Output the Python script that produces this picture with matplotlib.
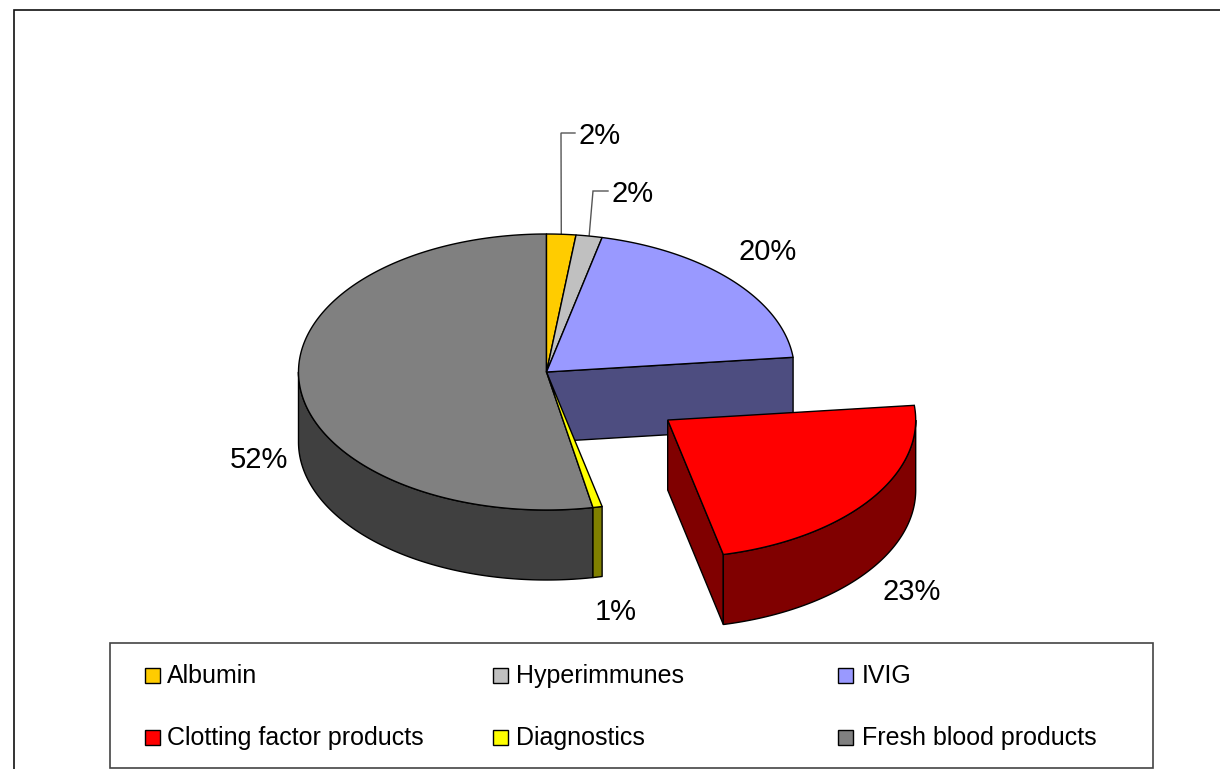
import numpy as np
import matplotlib
matplotlib.use("Agg")
import matplotlib.pyplot as plt
from matplotlib.patches import Polygon, Rectangle
from matplotlib.colors import to_rgb

categories = ["Albumin", "Hyperimmunes", "IVIG", "Clotting factor products", "Diagnostics", "Fresh blood products"]
values = [1.9, 1.7, 19.7, 23.1, 0.6, 53.0]
pct_labels = ["2%", "2%", "20%", "23%", "1%", "52%"]
colors = ["#FFCC00", "#C0C0C0", "#9999FF", "#FF0000", "#FFFF00", "#808080"]
explode = [0, 0, 0, 0.6, 0, 0]

plt.rcParams["font.family"] = ["Liberation Sans", "DejaVu Sans"]
fig = plt.figure(figsize=(12.2, 7.69), dpi=100)
ax = fig.add_axes([0, 0, 1, 1])
ax.set_xlim(0, 1220)
ax.set_ylim(769, 0)
ax.axis("off")

CX, CY, RX, RY, DEPTH = 546.5, 372, 248, 138, 70
EDGE = 1.0

def dark(c):
    return tuple(v * 0.5 for v in to_rgb(c))

def pt(theta, off=(0, 0), dy=0):
    t = np.radians(theta)
    return np.array([CX + off[0] + RX * np.sin(t), CY + off[1] - RY * np.cos(t) + dy])

def arc(a, b, off=(0, 0), dy=0):
    ts = np.radians(np.linspace(a, b, max(int(abs(b - a) * 2), 2)))
    return np.column_stack([CX + off[0] + RX * np.sin(ts), CY + off[1] - RY * np.cos(ts) + dy])

# outer frame
ax.add_patch(Rectangle((14, 9.5), 1300, 900, fc="white", ec="#111111", lw=1.2, zorder=0))

bounds = np.concatenate([[0], np.cumsum(values)]) / sum(values) * 360
wedges = []
for i, (v, c, e) in enumerate(zip(values, colors, explode)):
    a, b = bounds[i], bounds[i + 1]
    m = np.radians((a + b) / 2)
    off = (e * RX * np.sin(m), -e * RY * np.cos(m))
    wedges.append((a, b, off, c))

# back-most cut face of the IVIG slice
a, b, off, c = wedges[2]
corner = pt(b, off)
ax.add_patch(Polygon([(CX, CY), corner, corner + (0, DEPTH), (CX, CY + DEPTH)],
                     fc=dark(c), ec="black", lw=EDGE, zorder=2))

# outer walls of the front half of the stationary slices, and all tops
for i in (5, 4):
    a, b, off, c = wedges[i]
    s, f = a, min(b, 270)
    if f > s:
        poly = np.vstack([arc(s, f, off), arc(f, s, off, DEPTH)])
        ax.add_patch(Polygon(poly, fc=dark(c), ec="black", lw=EDGE, zorder=3, joinstyle="round"))
for i in (5, 4, 0, 1, 2):
    a, b, off, c = wedges[i]
    poly = np.vstack([[(CX + off[0], CY + off[1])], arc(a, b, off)])
    ax.add_patch(Polygon(poly, fc=c, ec="black", lw=EDGE, zorder=4, joinstyle="round"))

# exploded clotting factor slice
a, b, off, c = wedges[3]
apex = np.array([CX + off[0], CY + off[1]])
ax.add_patch(Polygon([apex, pt(b, off), pt(b, off, DEPTH), apex + (0, DEPTH)],
                     fc=dark(c), ec="black", lw=EDGE, zorder=5))
ax.add_patch(Polygon(np.vstack([arc(max(a, 90), b, off), arc(b, max(a, 90), off, DEPTH)]),
                     fc=dark(c), ec="black", lw=EDGE, zorder=5))
ax.add_patch(Polygon(np.vstack([[apex], arc(a, b, off)]), fc=c, ec="black", lw=EDGE, zorder=6))

# percentage labels
label_pos = [(600, 136.5), (633, 194.5), (767.5, 252.5), (911.5, 592.5), (615.5, 612.5), (258.5, 460.5)]
for txt, (x, y) in zip(pct_labels, label_pos):
    ax.text(x, y, txt, fontsize=21, ha="center", va="center", color="black", zorder=8)

# leader lines for the two thin slices
for i, (kx, ky, ex) in zip((0, 1), ((561, 133, 575), (593, 191, 608))):
    a, b, off, c = wedges[i]
    s = pt((a + b) / 2)
    ax.plot([s[0], kx, ex], [s[1], ky, ky], color="#555555", lw=1.0, zorder=3, solid_joinstyle="miter")

# legend
ax.add_patch(Rectangle((110, 643), 1043, 125, fc="white", ec="#444444", lw=1.2, zorder=7))
leg_x = [145, 493, 838]
leg_text_x = [167, 516, 862]
leg_y = [675, 737]
for i, (name, c) in enumerate(zip(categories, colors)):
    x, y = leg_x[i % 3], leg_y[i // 3]
    ax.add_patch(Rectangle((x, y - 7.5), 14.5, 15, fc=c, ec="black", lw=1.0, zorder=8))
    ax.text(leg_text_x[i % 3], y + 1, name, fontsize=18, ha="left", va="center", color="black", zorder=8)

fig.savefig("out.png", dpi=100)
